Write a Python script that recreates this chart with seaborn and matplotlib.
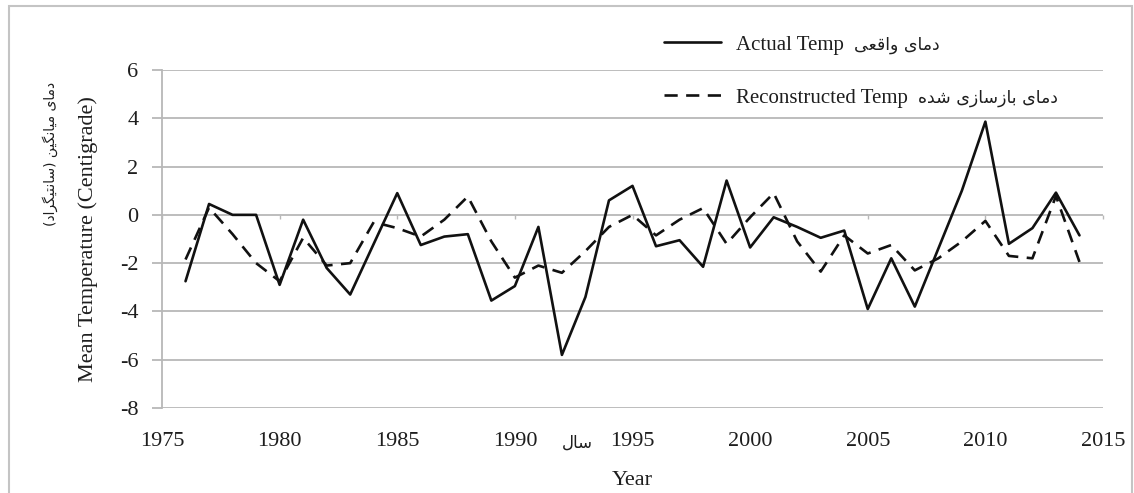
import numpy as np
import pandas as pd
import matplotlib
matplotlib.use("Agg")
import matplotlib.pyplot as plt
from matplotlib.patches import Rectangle
import seaborn as sns

# ---- data -------------------------------------------------------------
years = list(range(1976, 2015))
actual_temp = [-2.75, 0.45, 0.0, 0.0, -2.9, -0.2, -2.2, -3.3, -1.2, 0.9,
               -1.25, -0.9, -0.8, -3.55, -2.95, -0.5, -5.8, -3.4, 0.6, 1.2,
               -1.3, -1.05, -2.15, 1.42, -1.35, -0.1, -0.5, -0.95, -0.65, -3.9,
               -1.8, -3.8, -1.4, 1.0, 3.86, -1.2, -0.55, 0.92, -0.85]
recon_temp = [-1.85, 0.3, -0.8, -2.0, -2.75, -0.95, -2.1, -2.0, -0.3, -0.55,
              -0.9, -0.2, 0.76, -1.1, -2.6, -2.1, -2.4, -1.5, -0.5, 0.0,
              -0.85, -0.2, 0.28, -1.2, -0.1, 0.9, -1.1, -2.35, -0.85, -1.6,
              -1.25, -2.3, -1.8, -1.1, -0.25, -1.7, -1.8, 0.78, -1.95]

y_ticks = [-8, -6, -4, -2, 0, 2, 4, 6]
x_ticks = [1975, 1980, 1985, 1990, 1995, 2000, 2005, 2010, 2015]

series_en = ["Actual Temp", "Reconstructed Temp"]
series_fa = ["دمای واقعی", "دمای بازسازی شده"]
xlabel_en, xlabel_fa = "Year", "سال"
ylabel_en, ylabel_fa = "Mean Temperature (Centigrade)", "دمای میانگین (سانتیگراد)"

# ---- Persian shaping (presentation forms, visual order) ---------------
FORMS = {
    "ا": ("\uFE8D", "\uFE8E"),
    "ب": ("\uFE8F", "\uFE90", "\uFE91", "\uFE92"),
    "ت": ("\uFE95", "\uFE96", "\uFE97", "\uFE98"),
    "د": ("\uFEA9", "\uFEAA"),
    "ر": ("\uFEAD", "\uFEAE"),
    "ز": ("\uFEAF", "\uFEB0"),
    "س": ("\uFEB1", "\uFEB2", "\uFEB3", "\uFEB4"),
    "ش": ("\uFEB5", "\uFEB6", "\uFEB7", "\uFEB8"),
    "ع": ("\uFEC9", "\uFECA", "\uFECB", "\uFECC"),
    "ق": ("\uFED5", "\uFED6", "\uFED7", "\uFED8"),
    "ل": ("\uFEDD", "\uFEDE", "\uFEDF", "\uFEE0"),
    "م": ("\uFEE1", "\uFEE2", "\uFEE3", "\uFEE4"),
    "ن": ("\uFEE5", "\uFEE6", "\uFEE7", "\uFEE8"),
    "ه": ("\uFEE9", "\uFEEA", "\uFEEB", "\uFEEC"),
    "و": ("\uFEED", "\uFEEE"),
    "ی": ("\uFBFC", "\uFBFD", "\uFBFE", "\uFBFF"),
    "گ": ("\uFB92", "\uFB93", "\uFB94", "\uFB95"),
}


def shape(text):
    out = []
    for i, ch in enumerate(text):
        f = FORMS.get(ch)
        if f is None:
            out.append(ch)
            continue
        prev = text[i - 1] if i > 0 else ""
        nxt = text[i + 1] if i + 1 < len(text) else ""
        join_prev = prev in FORMS and len(FORMS[prev]) == 4
        join_next = len(f) == 4 and nxt in FORMS
        if join_prev and join_next:
            out.append(f[3])
        elif join_prev:
            out.append(f[1])
        elif join_next:
            out.append(f[2])
        else:
            out.append(f[0])
    vis = "".join(reversed(out))
    return vis.translate(str.maketrans("()", ")("))


# ---- style ------------------------------------------------------------
sns.set_theme(style="white")
plt.rcParams["font.family"] = ["Liberation Serif", "DejaVu Sans"]
plt.rcParams["axes.unicode_minus"] = False
TXT = "#1e1e1e"
GRID = "#b8b8b8"
FA_FONT = ["DejaVu Sans"]

W, H = 1134, 493
fig = plt.figure(figsize=(W / 100, H / 100), dpi=100)
ax = fig.add_axes([162 / W, 1 - 408 / H, (1103 - 162) / W, (408 - 70) / H])

df = pd.DataFrame({"year": years, "actual": actual_temp, "recon": recon_temp})
sns.lineplot(data=df, x="year", y="actual", ax=ax, color="#111111", lw=1.9,
             label=series_en[0])
sns.lineplot(data=df, x="year", y="recon", ax=ax, color="#111111", lw=1.9,
             linestyle=(0, (5, 3.2)), label=series_en[1])

ax.set_xlim(1975, 2015)
ax.set_ylim(-8, 6)
ax.set_yticks(y_ticks)
ax.set_xticks(x_ticks)
ax.set_yticklabels([str(v) for v in y_ticks])
ax.set_xticklabels([str(v) for v in x_ticks])
ax.yaxis.grid(True, color=GRID, lw=1.3)
ax.xaxis.grid(False)
ax.set_axisbelow(True)
for s in ["top", "right", "bottom"]:
    ax.spines[s].set_visible(False)
ax.spines["left"].set_color(GRID)
ax.spines["left"].set_linewidth(1.3)
ax.tick_params(axis="y", length=7, width=1.3, color=GRID, pad=10,
               labelsize=16, labelcolor=TXT, left=True)
ax.tick_params(axis="x", length=0, pad=17, labelsize=16, labelcolor=TXT)

# horizontal category axis crossing at zero
zero_loc = (0 - y_ticks[0]) / (y_ticks[-1] - y_ticks[0])
sec = ax.secondary_xaxis(zero_loc)
sec.set_xticks(x_ticks)
sec.set_xticklabels([])
sec.tick_params(length=3, width=1.0, color=GRID, direction="in")
sec.spines["bottom"].set_color(GRID)
sec.spines["bottom"].set_linewidth(1.3)
for s in ["top", "left", "right"]:
    if s in sec.spines:
        sec.spines[s].set_visible(False)

ax.set_xlabel(xlabel_en, fontsize=16, color=TXT, labelpad=15)
ax.set_ylabel(ylabel_en, fontsize=16, color=TXT, labelpad=16)

fig.text(577 / W, 1 - 443 / H, shape(xlabel_fa), family=FA_FONT,
         fontsize=12, color=TXT, ha="center", va="center")
fig.text(50 / W, 1 - 154 / H, shape(ylabel_fa), family=FA_FONT,
         fontsize=10, color=TXT, ha="center", va="center", rotation=90)

leg = ax.legend(loc="upper left", bbox_to_anchor=(664 / W, 1 - 35 / H),
                bbox_transform=fig.transFigure, frameon=False, fontsize=15,
                handlelength=2.75, handletextpad=0.7, labelspacing=1.6,
                borderpad=0, borderaxespad=0)
for t in leg.get_texts():
    t.set_color(TXT)

# Persian captions follow each English legend entry
fig.canvas.draw()
for t, fa in zip(leg.get_texts(), series_fa):
    bb = t.get_window_extent()
    fig.text((bb.x1 + 10) / W, (bb.y0 + bb.y1) / 2 / H, shape(fa),
             family=FA_FONT, fontsize=12.5, color=TXT, ha="left", va="center")

# outer chart-area frame
fig.patches.append(Rectangle((9 / W, -0.2), (1132 - 9) / W, 1.2 - 6 / H,
                             transform=fig.transFigure, fill=False,
                             edgecolor="#c4c4c4", lw=1.5, zorder=0))

fig.savefig("out.png", dpi=100)
